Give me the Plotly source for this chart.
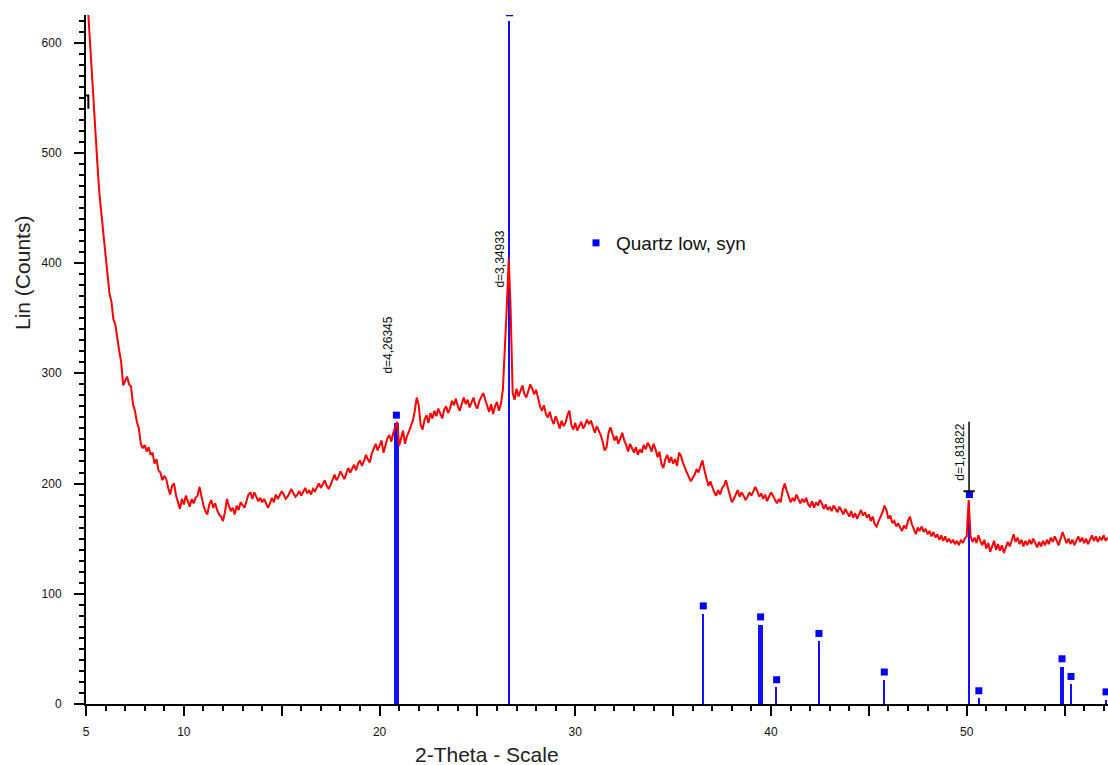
import plotly.graph_objects as go

scan_start = 5.0
scan_step = 0.1
counts = [
    660, 630, 595, 573, 545, 512, 485, 460, 443, 420,
    405, 392, 372, 365, 349, 344, 330, 320, 310, 289,
    293, 297, 290, 288, 272, 266, 256, 250, 236, 232,
    235, 229, 233, 226, 228, 218, 222, 212, 210, 203,
    207, 204, 196, 190, 198, 200, 189, 183, 177, 186,
    181, 189, 184, 179, 186, 182, 187, 189, 197, 188,
    180, 175, 172, 181, 185, 178, 182, 176, 172, 170,
    166, 174, 186, 180, 175, 178, 172, 180, 176, 183,
    181, 178, 184, 190, 192, 186, 192, 188, 184, 187,
    183, 186, 181, 178, 182, 187, 183, 190, 186, 189,
    193, 190, 186, 188, 192, 195, 191, 188, 190, 193,
    189, 192, 196, 191, 194, 190, 195, 193, 197, 200,
    196, 199, 203, 198, 195, 199, 204, 208, 203, 206,
    211, 207, 204, 209, 214, 210, 213, 217, 212, 218,
    221, 216, 220, 226, 222, 219, 227, 231, 236, 230,
    234, 239, 228, 235, 241, 244, 238, 246, 252, 256,
    234, 240, 248, 236, 243, 247, 252, 257, 266, 278,
    271, 253, 249, 258, 262, 255, 264, 259, 266, 261,
    268, 263, 259, 267, 270, 264, 268, 275, 271, 277,
    270, 266, 273, 278, 272, 276, 269, 274, 278, 271,
    268, 275, 279, 282, 276, 271, 265, 272, 263, 270,
    274, 266, 272, 285, 318, 360, 404, 356, 282, 276,
    286, 279, 284, 289, 281, 278, 284, 290, 286, 281,
    285, 276, 270, 266, 271, 263, 260, 265, 258, 254,
    261, 256, 250, 257, 252, 255, 262, 266, 253, 249,
    255, 248, 252, 256, 250, 253, 258, 254, 257, 251,
    246, 252, 248, 244, 238, 230, 233, 246, 251, 244,
    239, 243, 236, 241, 246, 239, 235, 229, 236, 232,
    228, 233, 226, 231, 228, 235, 231, 237, 234, 229,
    236, 231, 224, 229, 218, 214, 222, 226, 219, 224,
    218, 222, 216, 228, 225, 219, 214, 210, 206, 202,
    205, 208, 213, 210, 216, 221, 212, 204, 198, 202,
    196, 192, 189, 194, 190, 196, 198, 203, 196, 189,
    183, 186, 191, 194, 188, 192, 189, 185, 188, 192,
    189, 194, 197, 193, 188, 191, 186, 190, 184, 188,
    192, 189, 186, 182, 186, 183, 194, 200, 194, 188,
    183, 187, 184, 190, 186, 182, 186, 183, 187, 181,
    179, 184, 178, 183, 180, 185, 182, 177, 181, 176,
    179, 175, 180, 177, 174, 179, 175, 172, 177, 173,
    170, 175, 169, 173, 168, 172, 176, 171, 174, 169,
    172, 166, 170, 163, 161, 166, 170, 174, 180, 176,
    168, 171, 164, 166, 161, 164, 160, 157, 162, 159,
    166, 170, 163, 158, 154, 160, 157, 161, 156, 159,
    154, 157, 152, 156, 151, 154, 149, 153, 148, 152,
    147, 150, 146, 149, 145, 148, 144, 149, 146, 150,
    152, 185, 152, 147, 151, 146, 153, 148, 144, 149,
    141, 146, 138, 143, 148, 140, 145, 139, 144, 137,
    142, 147, 143, 149, 154, 147, 151, 145, 149, 143,
    148, 144, 149, 145, 150, 146, 142, 147, 143, 148,
    144, 149, 145, 151, 147, 152, 148, 144, 150, 156,
    151, 146, 150, 145, 149, 144, 148, 152, 147, 151,
    146, 150, 145, 149, 153, 148, 152, 147, 151, 149,
    153, 148, 151,
]
two_theta = [round(scan_start + scan_step * i, 2) for i in range(len(counts))]

# ---- reference pattern: Quartz low, syn ----
quartz_pos = [20.86, 26.64, 36.54, 39.47, 40.29, 42.45, 45.79, 50.14, 50.62, 54.87, 55.33, 57.12]
quartz_int = [262, 627, 89, 79, 22, 64, 29, 190, 12, 41, 25, 11]
quartz_thick = [True, False, False, True, False, False, False, False, False, True, False, False]

# ---- d-spacing labels ----
d_pos = [20.43, 26.15, 49.66]
d_y = [326, 404, 228]
d_text = ["d=4,26345", "d=3,34933", "d=1,81822"]

# ---- axis ticks ----
x_tickvals = [5, 10, 15, 20, 25, 30, 35, 40, 45, 50, 55]
x_ticktext = ["5", "10", "", "20", "", "30", "", "40", "", "50", ""]

fig = go.Figure()

# sticks (bars), ending a little under their square markers
gap = 7
fig.add_trace(go.Bar(
    x=quartz_pos,
    y=[max(v - gap, 0) for v in quartz_int],
    width=[0.25 if t else 0.085 for t in quartz_thick],
    marker=dict(color="#1010ff", line=dict(width=0)),
    showlegend=False, hoverinfo="skip",
))

# measured pattern
fig.add_trace(go.Scatter(
    x=two_theta, y=counts, mode="lines",
    line=dict(color="#ff0000", width=2),
    showlegend=False,
))

# quartz markers + legend
fig.add_trace(go.Scatter(
    x=quartz_pos, y=quartz_int, mode="markers",
    marker=dict(symbol="square", size=7, color="#0000ff"),
    name="Quartz low, syn",
))

# d-value marker at 50.1: vertical black line + tick
fig.add_trace(go.Scatter(
    x=[50.12, 50.12], y=[192, 256], mode="lines",
    line=dict(color="black", width=1.5), showlegend=False, hoverinfo="skip",
))
fig.add_trace(go.Scatter(
    x=[50.12], y=[193], mode="markers",
    marker=dict(symbol="line-ew", size=8, line=dict(color="black", width=2)),
    showlegend=False, hoverinfo="skip",
))
fig.add_trace(go.Scatter(
    x=[5.0, 5.12, 5.12], y=[552, 552, 540], mode="lines",
    line=dict(color="black", width=2), showlegend=False, hoverinfo="skip",
    cliponaxis=False,
))

for xp, yp, t in zip(d_pos, d_y, d_text):
    fig.add_annotation(x=xp, y=yp, text=t, textangle=-90, showarrow=False,
                       font=dict(family="Liberation Sans", size=12, color="#111"),
                       xanchor="center", yanchor="middle")

fig.add_annotation(xref="paper", yref="paper", x=(22 - 86) / 1022, y=(704 - 273) / 689,
                   text="Lin (Counts)", textangle=-90, showarrow=False,
                   font=dict(family="Liberation Sans", size=21, color="#222"),
                   xanchor="center", yanchor="middle")
fig.add_annotation(xref="paper", yref="paper", x=(487 - 86) / 1022, y=(704 - 754) / 689,
                   text="2-Theta - Scale", showarrow=False,
                   font=dict(family="Liberation Sans", size=21, color="#222"),
                   xanchor="center", yanchor="middle")

fig.update_layout(
    width=1108, height=765,
    margin=dict(l=86, r=0, t=15, b=61),
    paper_bgcolor="white", plot_bgcolor="white",
    bargap=0,
    legend=dict(x=(576 - 86) / 1022, y=(704 - 243) / 689, xanchor="left", yanchor="middle",
                bgcolor="rgba(0,0,0,0)",
                font=dict(family="Liberation Sans", size=19, color="#111")),
    font=dict(family="Liberation Sans"),
)
fig.update_xaxes(
    range=[5, 57.22], showgrid=False, zeroline=False,
    showline=True, linecolor="black", linewidth=2,
    tickmode="array", tickvals=x_tickvals, ticktext=x_ticktext,
    ticks="outside", ticklen=10, tickwidth=2, tickcolor="black",
    tickfont=dict(family="Liberation Sans", size=12, color="#111"),
    ticklabelstandoff=6,
    minor=dict(tick0=5, dtick=1, ticks="outside", ticklen=5, tickwidth=2, tickcolor="black"),
)
fig.update_yaxes(
    range=[0, 625], showgrid=False, zeroline=False,
    showline=True, linecolor="black", linewidth=2,
    tick0=0, dtick=100,
    ticks="outside", ticklen=10, tickwidth=2, tickcolor="black",
    tickfont=dict(family="Liberation Sans", size=12, color="#111"),
    ticklabelstandoff=10,
    minor=dict(tick0=0, dtick=10, ticks="outside", ticklen=5, tickwidth=2, tickcolor="black"),
)

fig.write_html("out.html")
